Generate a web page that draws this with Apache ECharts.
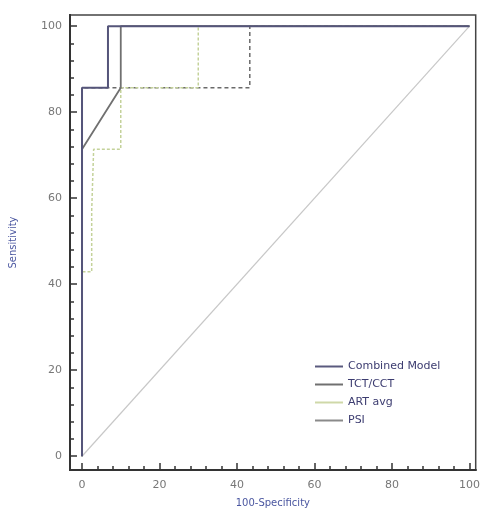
<!DOCTYPE html>
<html>
<head>
<meta charset="utf-8">
<script src="https://cdn.jsdelivr.net/npm/echarts@6/dist/echarts.min.js"></script>
<style>
  html, body { margin: 0; padding: 0; background: #fff; }
  #chart { width: 483px; height: 513px; }
</style>
</head>
<body>
<div id="chart"></div>
<script>
// ROC curves, x = 100-Specificity, y = Sensitivity
const combinedX = [0, 0, 6.7, 6.7, 100];
const combinedY = [0, 85.7, 85.7, 100, 100];
const tctX = [0, 0, 10, 10, 100];
const tctY = [0, 71.4, 85.7, 100, 100];
const artX = [0, 0, 2.5, 2.5, 3, 3, 10, 10, 30, 30, 100];
const artY = [0, 42.9, 42.9, 57.1, 57.1, 71.4, 71.4, 85.7, 85.7, 100, 100];
const psiX = [0, 0, 43.3, 43.3, 100];
const psiY = [0, 85.7, 85.7, 100, 100];
const diagX = [0, 100];
const diagY = [0, 100];
const tickValues = [0, 20, 40, 60, 80, 100];
const minorValues = [4, 8, 12, 16, 24, 28, 32, 36, 44, 48, 52, 56, 64, 68, 72, 76, 84, 88, 92, 96];

function pairs(xs, ys) {
    return xs.map(function (x, i) { return [x, ys[i]]; });
}

let chart = echarts.init(document.getElementById('chart'));

function axis(extra, min, max, minor) {
    return Object.assign({
        type: 'value',
        min: min,
        max: max,
        splitLine: {show: false},
        axisLine: {show: true, onZero: false, lineStyle: {color: '#333', width: 2}},
        axisTick: {
            show: true,
            inside: true,
            length: minor ? 4 : 7,
            customValues: minor ? minorValues : tickValues,
            lineStyle: {color: '#333', width: 1.5}
        },
        axisLabel: minor ? {show: false} : {
            customValues: tickValues,
            color: '#777',
            fontSize: 11,
            fontFamily: 'DejaVu Sans'
        }
    }, extra);
}

const option = {
    animation: false,
    backgroundColor: '#fff',
    grid: {
        left: 70, right: 5, top: 15, bottom: 42,
        show: true,
        borderColor: '#444',
        borderWidth: 1.5
    },
    legend: {
        orient: 'vertical',
        left: 310,
        top: 356,
        itemWidth: 28,
        itemHeight: 2,
        itemGap: 7,
        icon: 'rect',
        textStyle: {color: '#3c3c70', fontSize: 11, fontFamily: 'DejaVu Sans'},
        data: ['Combined Model', 'TCT/CCT', 'ART avg', 'PSI']
    },
    xAxis: [
        axis({
            name: '100-Specificity',
            nameLocation: 'middle',
            nameGap: 28,
            nameTextStyle: {color: '#4a56a0', fontSize: 10, fontFamily: 'DejaVu Sans'},
            axisLabel: {customValues: tickValues, color: '#777', fontSize: 11, margin: 10, fontFamily: 'DejaVu Sans'}
        }, -3.1, 101.6, false),
        axis({gridIndex: 0, position: 'bottom'}, -3.1, 101.6, true)
    ],
    yAxis: [
        axis({
            name: 'Sensitivity',
            nameLocation: 'middle',
            nameGap: 52,
            nameTextStyle: {color: '#4a56a0', fontSize: 10, fontFamily: 'DejaVu Sans'}
        }, -3.2, 102.6, false),
        axis({gridIndex: 0, position: 'left'}, -3.2, 102.6, true)
    ],
    series: [
        {
            name: 'diag', type: 'line', symbol: 'none', silent: true,
            lineStyle: {color: '#c8c8c8', width: 1.2},
            data: pairs(diagX, diagY)
        },
        {
            name: 'PSI', type: 'line', symbol: 'none',
            itemStyle: {color: '#8a8a8a'},
            lineStyle: {color: '#6a6a6a', width: 1.5, type: [4, 3]},
            data: pairs(psiX, psiY)
        },
        {
            name: 'ART avg', type: 'line', symbol: 'none',
            itemStyle: {color: '#cfd8a8'},
            lineStyle: {color: '#c4d29a', width: 1.5, type: [3, 2]},
            data: pairs(artX, artY)
        },
        {
            name: 'TCT/CCT', type: 'line', symbol: 'none',
            itemStyle: {color: '#707070'},
            lineStyle: {color: '#707070', width: 1.8},
            data: pairs(tctX, tctY)
        },
        {
            name: 'Combined Model', type: 'line', symbol: 'none',
            itemStyle: {color: '#5a5a7e'},
            lineStyle: {color: '#55557a', width: 2},
            data: pairs(combinedX, combinedY)
        }
    ]
};

chart.setOption(option);

window.addEventListener('resize', function () {
    chart.resize();
});
</script>
</body>
</html>
